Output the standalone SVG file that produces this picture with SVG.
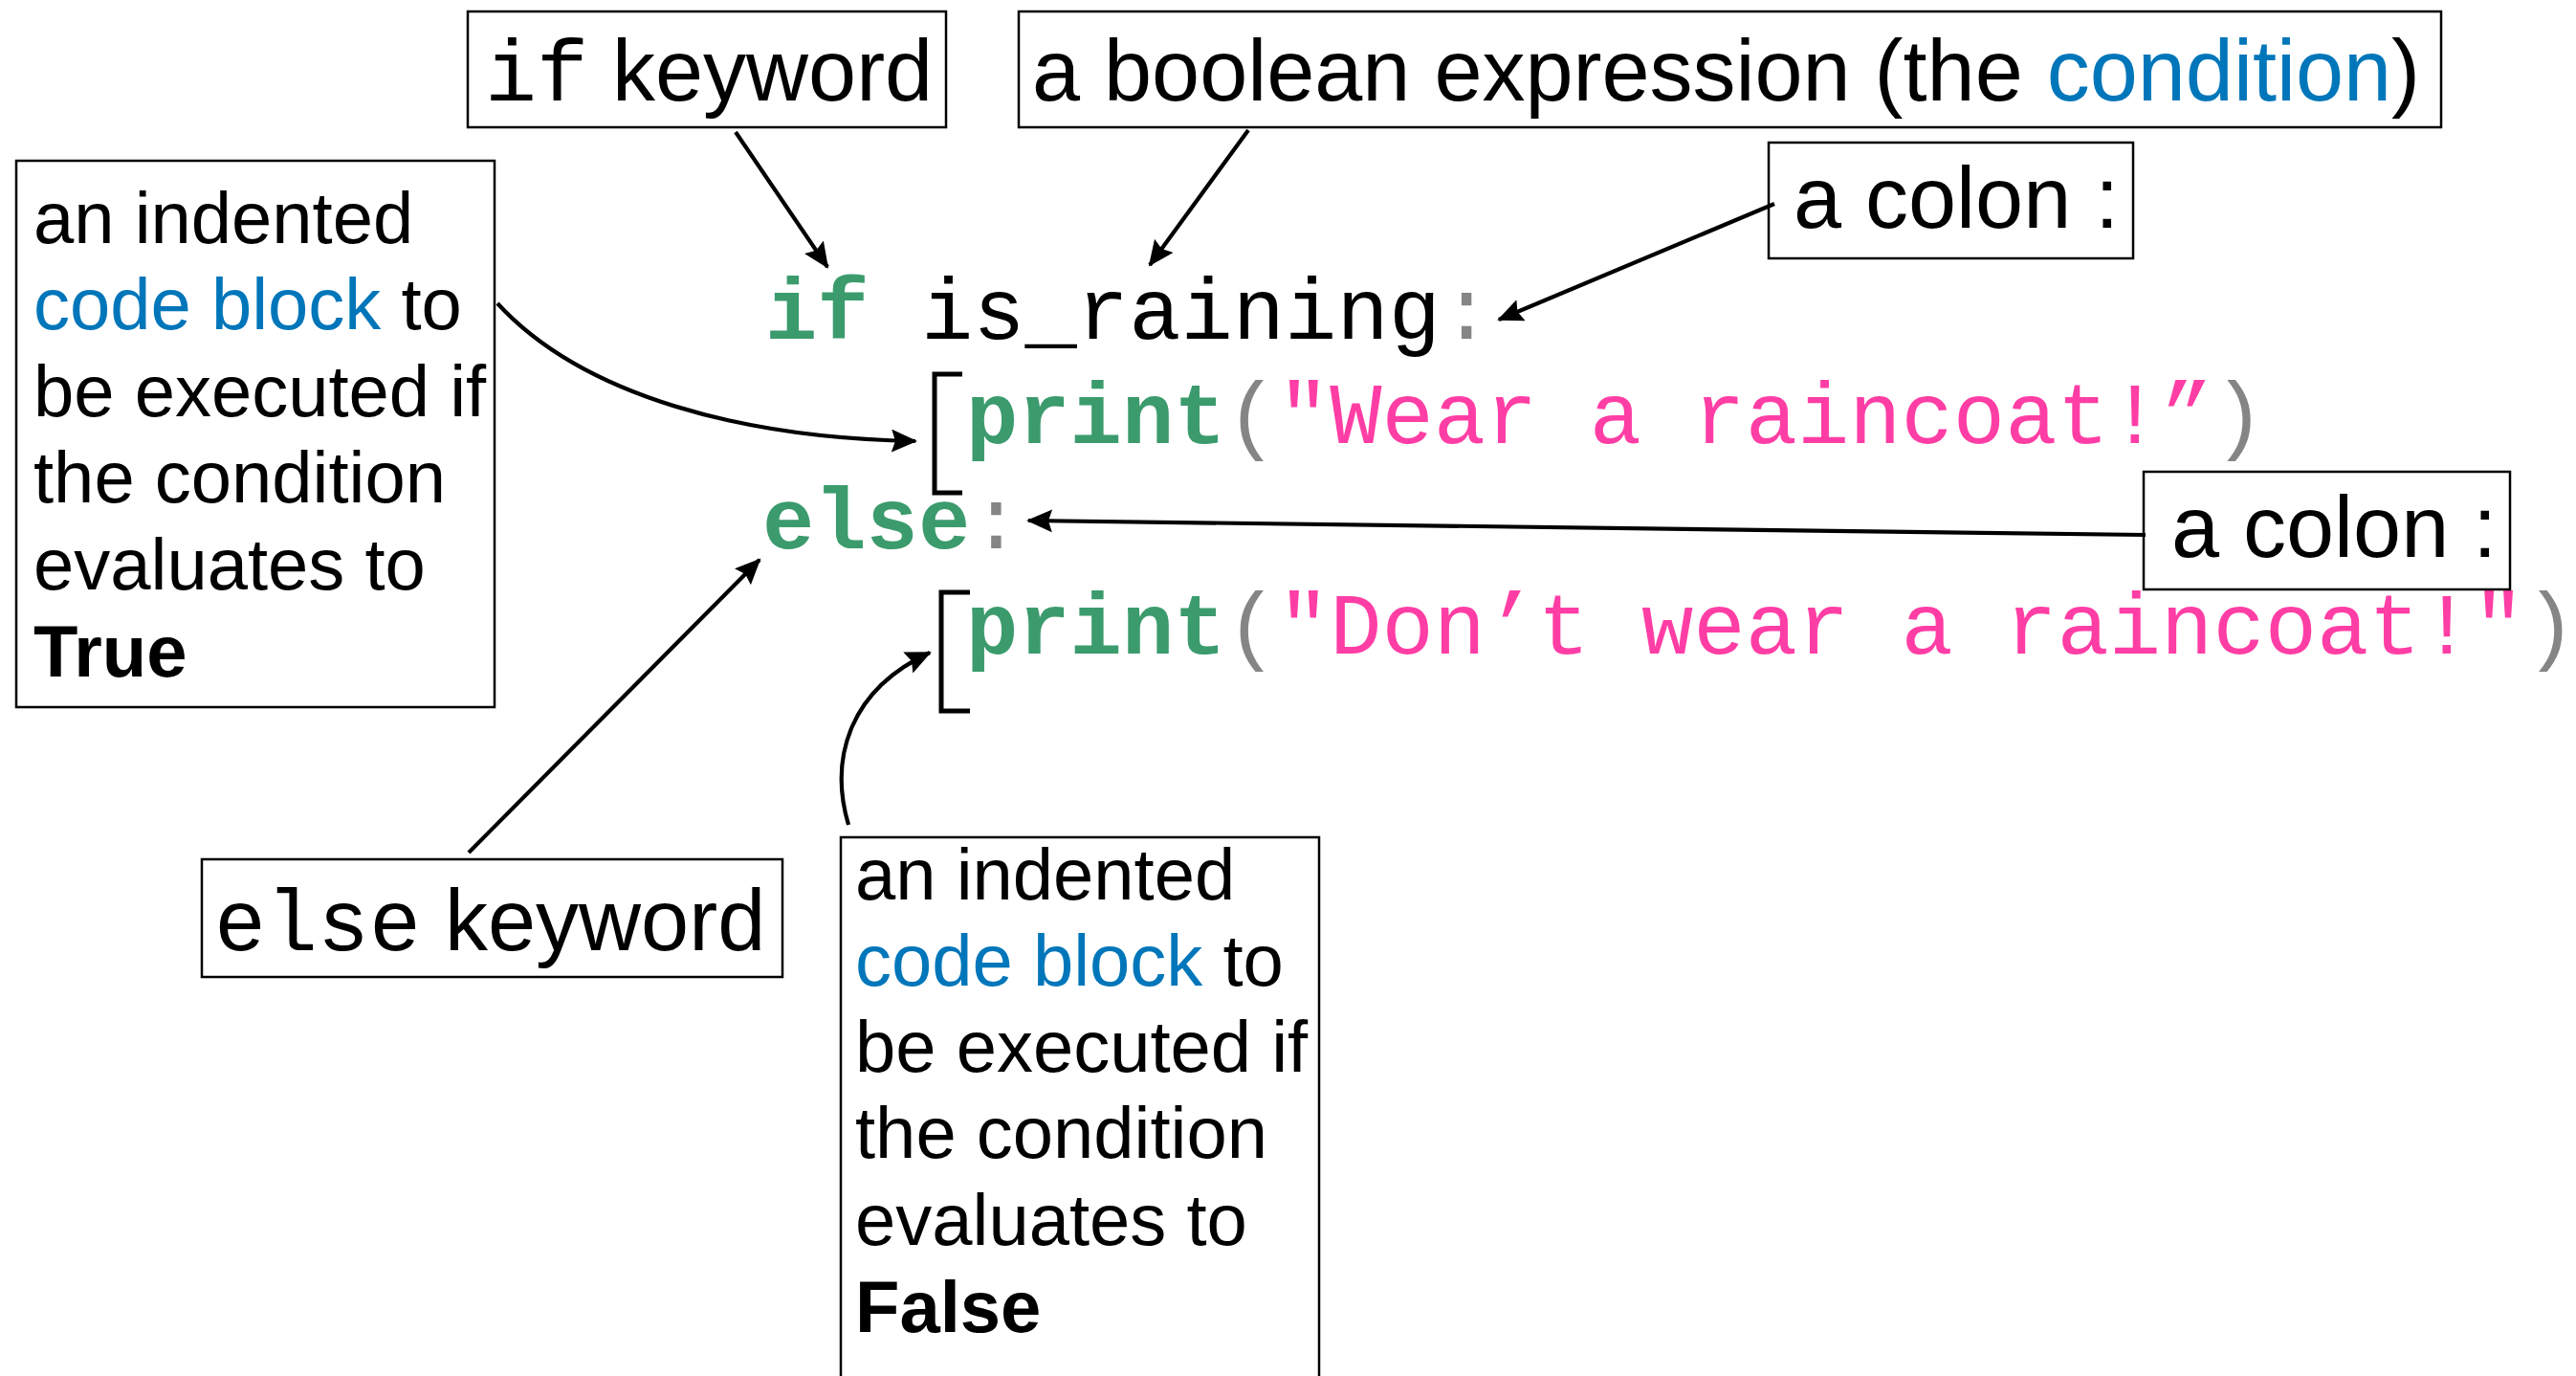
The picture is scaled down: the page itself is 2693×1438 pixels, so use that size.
<svg xmlns="http://www.w3.org/2000/svg" width="2693" height="1438" viewBox="0 0 2693 1438">
<style>
.box{fill:#fff;stroke:#000;stroke-width:2.5}
.lbl{font-family:"Liberation Sans",Arial,Helvetica,sans-serif;font-size:90px;fill:#000}
.txt{font-family:"Liberation Sans",Arial,Helvetica,sans-serif;font-size:76px;fill:#000}
.mono{font-family:"Liberation Mono","Courier New",monospace}
.code{font-family:"Liberation Mono","Courier New",monospace;font-size:90.5px}
.kw{fill:#3B9B6D;font-weight:bold}
.str{fill:#FF3EA5}
.pun{fill:#858585}
.blue{fill:#0076BA}
.conn{fill:none;stroke:#000;stroke-width:4.2;marker-end:url(#ah)}
.brk{fill:none;stroke:#000;stroke-width:5}
</style>
<defs>
<marker id="ah" markerUnits="userSpaceOnUse" markerWidth="30" markerHeight="26" refX="25" refY="12" orient="auto">
<path d="M0,0 L27,12 L0,24 L4,12 z" fill="#000"/>
</marker>
</defs>
<rect width="2693" height="1438" fill="#fff"/>

<g id="code">
<text class="code" x="800" y="354"><tspan class="kw">if</tspan><tspan fill="#000"> is_raining</tspan><tspan class="pun">:</tspan></text>
<text class="code" x="1010" y="463"><tspan class="kw">print</tspan><tspan class="pun">(</tspan><tspan class="str">"Wear a raincoat!”</tspan><tspan class="pun">)</tspan></text>
<text class="code" x="797" y="573"><tspan class="kw">else</tspan><tspan class="pun">:</tspan></text>
<text class="code" x="1010" y="683"><tspan class="kw">print</tspan><tspan class="pun">(</tspan><tspan class="str">"Don’t wear a raincoat!"</tspan><tspan class="pun">)</tspan></text>
<path class="brk" d="M1006,391 L977,391 L977,515 L1006,515"/>
<path class="brk" d="M1014,619 L984,619 L984,743 L1014,743"/>
</g>

<g id="if-keyword">
<rect class="box" x="489" y="12" width="500" height="121"/>
<text class="lbl" x="507" y="105"><tspan class="mono">if</tspan> keyword</text>
</g>

<g id="boolean-expression">
<rect class="box" x="1065" y="12" width="1487" height="121"/>
<text class="lbl" x="1079" y="105">a boolean expression (the <tspan class="blue">condition</tspan>)</text>
</g>

<g id="colon-top">
<rect class="box" x="1849" y="149" width="381" height="121"/>
<text class="lbl" x="1875" y="238">a colon :</text>
</g>

<g id="colon-else">
<rect class="box" x="2241" y="493" width="383" height="123"/>
<text class="lbl" x="2270" y="582">a colon :</text>
</g>

<g id="true-block">
<rect class="box" x="17" y="168" width="500" height="571"/>
<text class="txt">
<tspan x="35" y="254">an indented</tspan>
<tspan x="35" y="344"><tspan class="blue">code block</tspan> to</tspan>
<tspan x="35" y="435">be executed if</tspan>
<tspan x="35" y="525">the condition</tspan>
<tspan x="35" y="616">evaluates to</tspan>
<tspan x="35" y="707" font-weight="bold">True</tspan>
</text>
</g>

<g id="else-keyword">
<rect class="box" x="211" y="898" width="607" height="123"/>
<text class="lbl" x="224" y="993"><tspan class="mono">else</tspan> keyword</text>
</g>

<g id="false-block">
<rect class="box" x="879" y="875" width="500" height="600"/>
<text class="txt">
<tspan x="894" y="940">an indented</tspan>
<tspan x="894" y="1030"><tspan class="blue">code block</tspan> to</tspan>
<tspan x="894" y="1120">be executed if</tspan>
<tspan x="894" y="1210">the condition</tspan>
<tspan x="894" y="1301">evaluates to</tspan>
<tspan x="894" y="1392" font-weight="bold">False</tspan>
</text>
</g>

<g id="connectors">
<path class="conn" d="M769,138 L865,279"/>
<path class="conn" d="M1305,136 L1202,277"/>
<path class="conn" d="M1855,213 L1567,334"/>
<path class="conn" d="M520,317 C610,415 780,458 957,461"/>
<path class="conn" d="M2243,559 L1075,544"/>
<path class="conn" d="M490,891 L794,585"/>
<path class="conn" d="M887,862 C866,790 890,720 972,682"/>
</g>
</svg>
